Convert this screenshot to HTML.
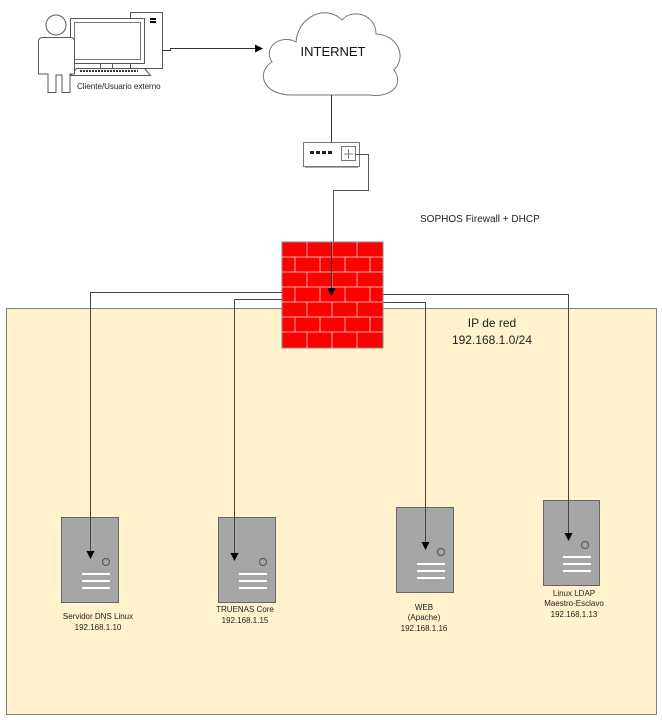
<!DOCTYPE html>
<html><head><style>body{margin:0;background:#fff}svg{display:block}text{font-family:"Liberation Sans",sans-serif}</style></head><body>
<svg width="662" height="720" viewBox="0 0 662 720" xmlns="http://www.w3.org/2000/svg">
<defs><marker id="a" markerWidth="8" markerHeight="8" refX="7" refY="4" orient="auto" markerUnits="userSpaceOnUse"><path d="M0,0 L8,4 L0,8z" fill="#000"/></marker></defs>
<rect x="6.5" y="308.5" width="650" height="406" fill="#fff2cc" stroke="#808080"/>
<!-- client -->
<rect x="130.5" y="12.5" width="32" height="56" fill="#fff" stroke="#555"/>
<rect x="150" y="18" width="6" height="2" fill="#000"/><rect x="150" y="21" width="6" height="2" fill="#000"/>
<rect x="70.5" y="18.5" width="74" height="45" fill="#fff" stroke="#555"/>
<rect x="74.5" y="22.5" width="66" height="37" fill="#fff" stroke="#777"/>
<rect x="100.5" y="63.5" width="12" height="5" fill="#fff" stroke="#555"/>
<path d="M76.5 68.5 H144.5 L150.5 75.5 H70.5 Z" fill="#fff" stroke="#555"/>
<line x1="80" y1="71" x2="138" y2="71" stroke="#333" stroke-width="2" stroke-dasharray="2 1"/>
<circle cx="56" cy="25" r="10" fill="#fff" stroke="#555"/>
<path d="M42.5 37.5 H70.5 Q74.5 37.5 74.5 42 V74 H70 V92.5 H62 V75 H56 V92.5 H48 V74 H38.5 V42 Q38.5 37.5 42.5 37.5Z" fill="#fff" stroke="#555"/>
<text x="77" y="89" font-size="8" fill="#222">Cliente/Usuario externo</text>
<path d="M162.5 50.5 H170.5 V48.5 H262" fill="none" stroke="#333" marker-end="url(#a)"/>
<!-- cloud -->
<path d="M292 95 C262 95 256 72 272 62 C262 46 282 34 296 42 C298 16 326 4 342 20 C352 8 376 14 376 34 C396 34 408 56 394 70 C406 88 386 98 370 95 Z" fill="#fff" stroke="#777"/>
<text x="333" y="56" font-size="13" text-anchor="middle" fill="#111">INTERNET</text>
<line x1="331.5" y1="95" x2="331.5" y2="154" stroke="#333" marker-end="url(#a)"/>
<!-- switch -->
<rect x="303.5" y="142.5" width="56" height="24" fill="#fff" stroke="#777"/>
<line x1="305" y1="167.5" x2="358" y2="167.5" stroke="#aaa"/>
<g fill="#222"><rect x="310" y="151" width="4" height="3"/><rect x="316" y="151" width="4" height="3"/><rect x="322" y="151" width="4" height="3"/><rect x="328" y="151" width="4" height="3"/></g>
<rect x="341.5" y="146.5" width="14" height="14" fill="#fff" stroke="#777"/>
<path d="M344 154 H353 M348.5 149 V159" stroke="#555" stroke-width="0.8"/>
<path d="M355.5 154.5 H368.5 V190.5 H333.5 V295" fill="none" stroke="#555"/>
<text x="420" y="222" font-size="10" fill="#222">SOPHOS Firewall + DHCP</text>
<!-- servers -->
<g stroke="#666" fill="#a6a6a6">
<rect x="61.5" y="517.5" width="57" height="85"/>
<rect x="218.5" y="517.5" width="57" height="85"/>
<rect x="396.5" y="507.5" width="57" height="85"/>
<rect x="543.5" y="500.5" width="56" height="85"/>
</g>
<g fill="none" stroke="#555"><circle cx="106" cy="562" r="3.5"/><circle cx="263" cy="562" r="3.5"/><circle cx="441" cy="552" r="3.5"/><circle cx="585" cy="545" r="3.5"/></g>
<g stroke="#fff" stroke-width="2">
<path d="M82 574H110M82 581H110M82 588H110"/>
<path d="M239 574H267M239 581H267M239 588H267"/>
<path d="M417 564H445M417 571H445M417 578H445"/>
<path d="M563 557H591M563 564H591M563 571H591"/>
</g>
<!-- connector lines -->
<g fill="none" stroke="#444">
<path d="M282 292.5 H90.5 V558" marker-end="url(#a)"/>
<path d="M282 299.5 H234.5 V560" marker-end="url(#a)"/>
<path d="M383 302.5 H425.5 V549" marker-end="url(#a)"/>
<path d="M383 294.5 H568.5 V540" marker-end="url(#a)"/>
</g>
<!-- firewall -->
<rect x="282" y="242" width="101" height="106" fill="#ff0000" stroke="#888"/>
<g stroke="#ffaaaa" stroke-width="1">
<path d="M282 257 H383 M282 272 H383 M282 287 H383 M282 302 H383 M282 317 H383 M282 332 H383"/>
<path d="M307 242V257 M332 242V257 M357 242V257 M295 257V272 M320 257V272 M345 257V272 M370 257V272 M307 272V287 M332 272V287 M357 272V287 M295 287V302 M320 287V302 M345 287V302 M370 287V302 M307 302V317 M332 302V317 M357 302V317 M295 317V332 M320 317V332 M345 317V332 M370 317V332 M307 332V348 M332 332V348 M357 332V348"/>
</g>
<line x1="331.5" y1="242" x2="331.5" y2="295" stroke="#333" marker-end="url(#a)"/>
<text x="492" y="327" font-size="12" text-anchor="middle" fill="#222">IP de red</text>
<text x="492" y="344" font-size="12" text-anchor="middle" fill="#222">192.168.1.0/24</text>
<g font-size="8" text-anchor="middle" fill="#222">
<text x="98" y="619">Servidor DNS Linux</text><text x="98" y="630">192.168.1.10</text>
<text x="245" y="612">TRUENAS Core</text><text x="245" y="623">192.168.1.15</text>
<text x="424" y="610">WEB</text><text x="424" y="620">(Apache)</text><text x="424" y="631">192.168.1.16</text>
<text x="574" y="596">Linux LDAP</text><text x="574" y="606">Maestro-Esclavo</text><text x="574" y="617">192.168.1.13</text>
</g>
</svg>
</body></html>
